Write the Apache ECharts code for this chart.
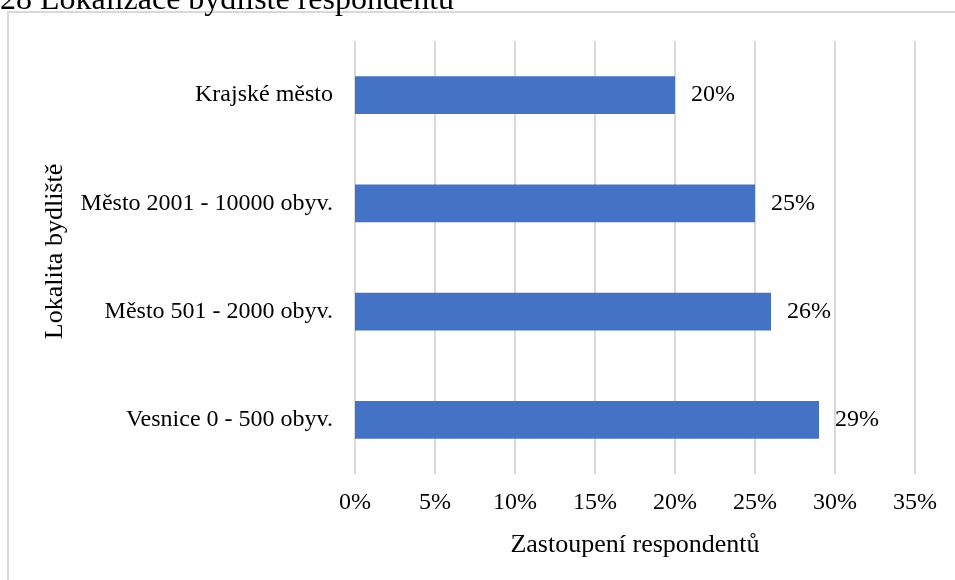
<!DOCTYPE html>
<html>
<head>
<meta charset="utf-8">
<script src="https://cdn.jsdelivr.net/npm/echarts@6/dist/echarts.min.js"></script>
<style>
html,body{margin:0;padding:0;background:#fff;}
#chart{width:955px;height:580px;}
</style>
</head>
<body>
<div id="chart"></div>
<script>
const titleText = '28 Lokalizace bydliště respondentů';
const categories = ['Vesnice 0 - 500 obyv.', 'Město 501 - 2000 obyv.', 'Město 2001 - 10000 obyv.', 'Krajské město'];
const values = [29, 26, 25, 20];
const xAxisName = 'Zastoupení respondentů';
const yAxisName = 'Lokalita bydliště';

const font = 'Liberation Serif, Times New Roman, serif';
const chart = echarts.init(document.getElementById('chart'), null, {renderer: 'canvas'});
chart.setOption({
  animation: false,
  backgroundColor: '#fff',
  graphic: [
    {type: 'rect', shape: {x: 8, y: 12, width: 1000, height: 700}, style: {fill: 'none', stroke: '#d9d9d9', lineWidth: 2}, z: -10},
    {type: 'text', x: 0, y: 1, style: {text: titleText, font: '32px ' + font, fill: '#000', verticalAlign: 'middle', align: 'left'}}
  ],
  grid: {left: 355, right: 40, top: 41, bottom: 106, containLabel: false},
  xAxis: {
    type: 'value', min: 0, max: 35, interval: 5,
    axisLabel: {formatter: '{value}%', fontFamily: font, fontSize: 24, color: '#000', margin: 17},
    axisLine: {show: false}, axisTick: {show: false},
    splitLine: {lineStyle: {color: '#d9d9d9', width: 2}},
    name: xAxisName, nameLocation: 'middle', nameGap: 58,
    nameTextStyle: {fontFamily: font, fontSize: 26, color: '#000'}
  },
  yAxis: {
    type: 'category', data: categories,
    axisLabel: {fontFamily: font, fontSize: 24, color: '#000', margin: 22},
    axisLine: {show: false}, axisTick: {show: false},
    name: yAxisName, nameLocation: 'middle', nameGap: 287, nameRotate: 90,
    nameTextStyle: {fontFamily: font, fontSize: 26, color: '#000', padding: [0, 0, 0, 12]}
  },
  series: [{
    type: 'bar', data: values, barWidth: '35%',
    itemStyle: {color: '#4472C4'},
    label: {show: true, position: 'right', distance: 16, formatter: '{c}%', fontFamily: font, fontSize: 24, color: '#000'}
  }]
});
</script>
</body>
</html>
